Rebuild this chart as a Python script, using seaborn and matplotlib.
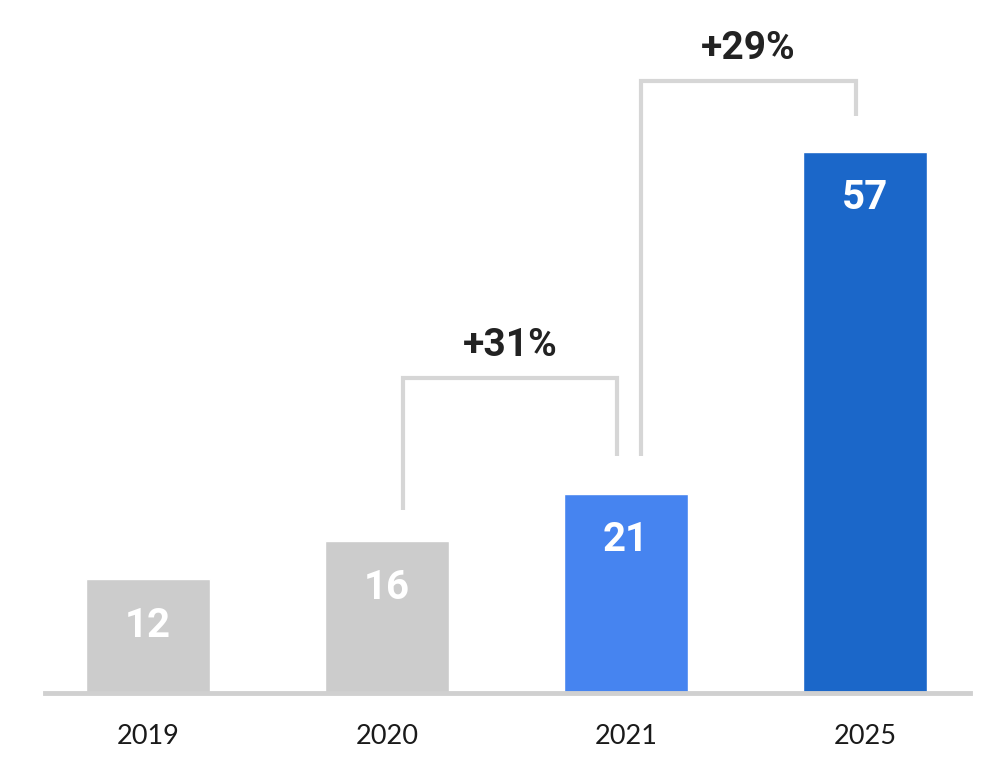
import matplotlib
matplotlib.use("Agg")
import matplotlib.pyplot as plt
import seaborn as sns
import pandas as pd

years = ["2019", "2020", "2021", "2025"]
values = [12, 16, 21, 57]
bar_colors = ["#cccccc", "#cccccc", "#4684f0", "#1b67c9"]
growth_labels = ["+31%", "+29%"]
growth_pairs = [(1, 2), (2, 3)]

sns.set_theme(style="white")
plt.rcParams["font.family"] = ["Lato", "DejaVu Sans"]

df = pd.DataFrame({"year": years, "value": values})

fig = plt.figure(figsize=(10, 7.74), dpi=100)
ax = fig.add_axes([0.045, 0.1047, 0.925, 0.8953])
sns.barplot(data=df, x="year", y="value", hue="year", palette=bar_colors,
            width=0.52, saturation=1, legend=False, ax=ax)

ax.set_xlim(-0.43, 3.44)
ax.set_ylim(0, 73)
for s in ["top", "right", "left"]:
    ax.spines[s].set_visible(False)
ax.spines["bottom"].set_color("#d0d0d0")
ax.spines["bottom"].set_linewidth(3.5)
ax.set_yticks([])
ax.set_xlabel("")
ax.set_ylabel("")
ax.tick_params(axis="x", length=0, pad=22, labelsize=19.5, labelcolor="#1a1a1a")

# value labels inside bars
for i, v in enumerate(values):
    ax.text(i, v - 4.9, str(v), ha="center", va="center", color="white",
            fontsize=29, fontweight="bold", family=["Roboto", "DejaVu Sans"])

# growth brackets: leg start/end heights and bracket level (data units)
bracket_specs = [
    dict(y_left=19.3, level=33.2, y_right=25.0, xl=0.067, xr=-0.038),
    dict(y_left=25.0, level=64.5, y_right=60.8, xl=0.063, xr=-0.038),
]
lc = "#d6d6d6"
for (a, b), lab, sp in zip(growth_pairs, growth_labels, bracket_specs):
    xa = a + sp["xl"]
    xb = b + sp["xr"]
    lv = sp["level"]
    ax.plot([xa, xa, xb, xb], [sp["y_left"], lv, lv, sp["y_right"]], color=lc, lw=3,
            solid_joinstyle="miter", solid_capstyle="butt")
    ax.text((xa + xb) / 2, lv + 3.4, lab, ha="center", va="center",
            fontsize=28, fontweight="bold", color="#222222",
            family=["Roboto", "DejaVu Sans"])

fig.savefig("out.png", dpi=100, facecolor="white")
